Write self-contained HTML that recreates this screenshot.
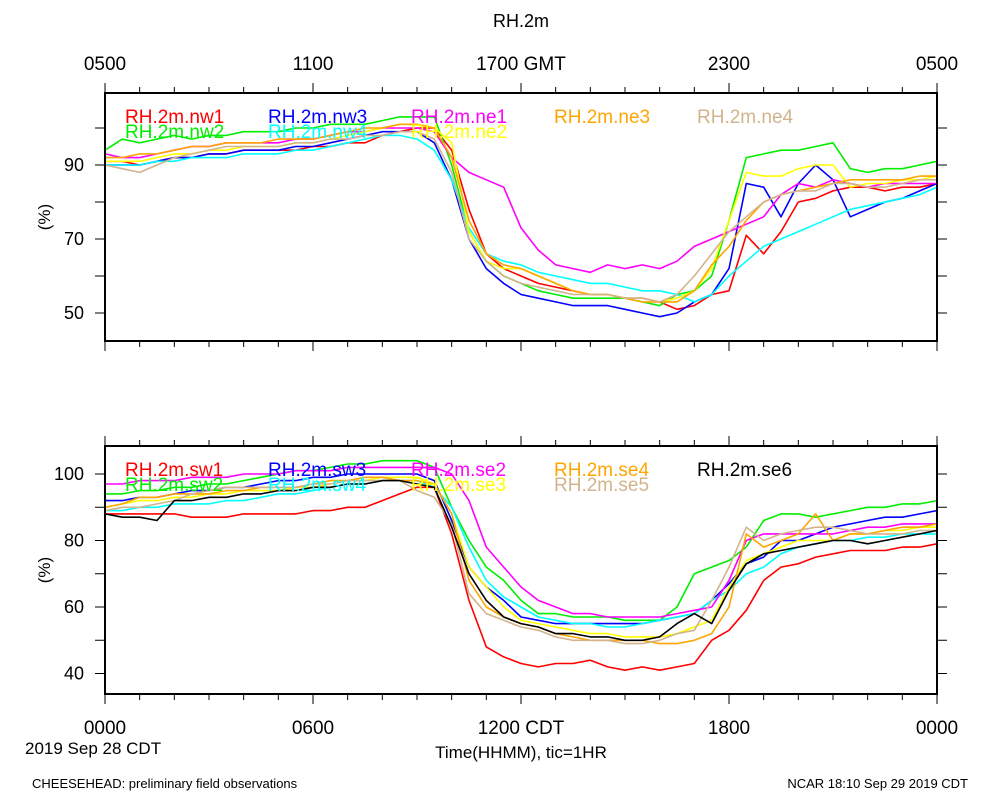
<!DOCTYPE html>
<html><head><meta charset="utf-8"><style>
body{margin:0;background:#fff;width:1000px;height:800px;overflow:hidden;font-family:"Liberation Sans",sans-serif}
svg text{font-family:"Liberation Sans",sans-serif}
</style></head><body>
<svg id="chart" width="1000" height="800">
<text x="521" y="27" font-size="18" text-anchor="middle">RH.2m</text>
<text x="25" y="754" font-size="17">2019 Sep 28 CDT</text>
<text x="521" y="758" font-size="17" text-anchor="middle">Time(HHMM), tic=1HR</text>
<text x="32" y="788" font-size="13">CHEESEHEAD: preliminary field observations</text>
<text x="968" y="788" font-size="13" text-anchor="end">NCAR 18:10 Sep 29 2019 CDT</text>
</svg>
<script>
const times=[];for(let i=0;i<=48;i++)times.push(i*0.5);
const topTickLabels=["0500","1100","1700 GMT","2300","0500"];
const botTickLabels=["0000","0600","1200 CDT","1800","0000"];
const topYLabels=[90,70,50];
const botYLabels=[100,80,60,40];
const topNames=["RH.2m.nw1","RH.2m.nw2","RH.2m.nw3","RH.2m.nw4","RH.2m.ne1","RH.2m.ne2","RH.2m.ne3","RH.2m.ne4"];
const botNames=["RH.2m.sw1","RH.2m.sw2","RH.2m.sw3","RH.2m.sw4","RH.2m.se2","RH.2m.se3","RH.2m.se4","RH.2m.se5","RH.2m.se6"];
const nw1=[91,91,90,91,92,92,93,93,94,94,94,94,95,95,96,96,98,99,100,100,94,78,66,62,60,58,57,56,55,55,54,54,53,51,52,55,56,71,66,72,80,81,83,84,84,83,84,84,85];
const nw2=[94,97,96,97,98,97,98,98,99,99,99,100,100,101,101,101,102,103,103,103,90,72,64,60,58,56,55,54,54,54,54,53,52,55,56,60,75,92,93,94,94,95,96,89,88,89,89,90,91];
const nw3=[90,90,90,91,92,92,93,93,94,94,94,95,95,96,97,98,99,99,99,96,86,70,62,58,55,54,53,52,52,52,51,50,49,50,53,55,62,85,84,76,85,90,86,76,78,80,81,83,85];
const nw4=[90,90,90,91,91,92,92,92,93,93,93,94,94,95,96,97,98,98,97,94,86,73,66,64,63,61,60,59,58,58,57,56,56,55,53,55,60,64,68,70,72,74,76,78,79,80,81,82,84];
const ne1=[93,92,92,93,94,95,95,96,96,96,96,97,97,98,99,99,100,100,100,99,92,88,86,84,73,67,63,62,61,63,62,63,62,64,68,70,72,74,76,82,85,84,86,85,84,85,85,85,85];
const ne2=[91,91,91,92,93,93,94,94,95,95,95,96,96,97,98,99,100,101,101,100,96,72,64,62,62,60,58,56,55,55,54,54,53,54,56,62,75,88,87,87,89,90,90,84,85,85,86,86,87];
const ne3=[92,92,93,93,94,95,95,96,96,96,97,97,97,98,99,100,100,101,101,100,92,75,66,63,62,60,58,56,55,55,54,53,53,53,56,63,68,75,80,82,83,84,85,86,86,86,86,87,87];
const ne4=[90,89,88,90,92,93,94,95,95,95,95,96,96,97,97,98,98,99,99,97,88,70,64,60,58,57,56,55,55,55,54,54,53,55,60,66,72,76,80,82,83,83,85,85,84,84,85,86,86];
const sw1=[88,88,88,88,88,87,87,87,88,88,88,88,89,89,90,90,92,94,96,96,82,62,48,45,43,42,43,43,44,42,41,42,41,42,43,50,53,59,68,72,73,75,76,77,77,77,78,78,79];
const sw2=[94,94,95,95,96,96,97,97,98,99,100,101,101,102,103,103,104,104,104,102,90,80,72,68,62,58,58,57,57,57,56,56,56,60,70,72,74,78,86,88,88,87,88,89,90,90,91,91,92];
const sw3=[92,92,93,93,94,95,95,96,96,97,98,98,99,99,100,100,100,100,100,98,86,72,66,62,57,56,55,55,55,55,55,55,56,57,58,62,67,73,75,80,80,82,84,85,86,87,87,88,89];
const sw4=[89,89,90,90,91,91,91,92,92,93,94,94,95,96,97,97,98,98,98,96,90,78,68,63,60,57,56,55,55,54,54,55,56,57,58,62,65,70,72,76,78,79,80,80,81,81,82,82,82];
const se2=[97,97,98,98,98,99,99,99,100,100,100,101,101,101,102,102,102,102,102,102,100,92,78,72,66,62,60,58,58,57,57,57,57,58,59,60,68,80,82,82,82,82,82,83,84,84,85,85,85];
const se3=[90,91,92,92,93,93,94,94,95,95,95,96,96,97,98,98,99,99,99,97,88,72,66,60,56,55,54,53,52,52,51,51,51,52,54,56,66,74,76,78,80,80,80,82,82,83,83,84,84];
const se4=[90,91,93,93,94,94,94,95,95,96,96,96,97,98,98,99,99,98,98,97,88,68,60,57,55,54,52,51,50,50,50,50,49,49,50,52,60,82,78,80,82,88,80,82,82,83,84,84,85];
const se5=[89,90,90,91,92,94,95,96,96,96,96,96,97,97,98,98,98,98,95,93,85,64,58,56,54,53,51,50,50,50,49,49,50,52,53,62,72,84,80,82,83,84,84,83,82,82,82,83,83];
const se6=[88,87,87,86,92,92,93,93,94,94,95,95,96,96,97,97,98,98,97,96,84,70,62,57,55,54,52,52,51,51,50,50,51,55,58,55,65,73,76,77,78,79,80,80,79,80,81,82,83];
const topSeries=[nw1,nw2,nw3,nw4,ne1,ne2,ne3,ne4];
const botSeries=[sw1,sw2,sw3,sw4,se2,se3,se4,se5,se6];
const topColors=["#ff0000","#00ee00","#0000ff","#00ffff","#ff00ff","#ffff00","#ffa500","#d2b48c"];
const botColors=["#ff0000","#00ee00","#0000ff","#00ffff","#ff00ff","#ffff00","#ffa500","#d2b48c","#000000"];
const topLegendSlots=[[0,0],[0,1],[1,0],[1,1],[2,0],[2,1],[3,0],[4,0]];
const botLegendSlots=[[0,0],[0,1],[1,0],[1,1],[2,0],[2,1],[3,0],[3,1],[4,0]];
const NS="http://www.w3.org/2000/svg";
const svg=document.getElementById('chart');
function mk(tag,attrs,parent){const e=document.createElementNS(NS,tag);for(const k in attrs)e.setAttribute(k,attrs[k]);(parent||svg).appendChild(e);return e;}
const X0=105,X1=937;
function xs(t){return X0+(t/24)*(X1-X0);}
function drawPanel(p){
  const g=mk('g',{});
  
  
  const ys=v=>p.y0-(v-p.v0)*p.k;
  for(let h=0;h<=24;h++){
    const x=xs(h),L=(h%6===0)?10:6;
    mk('line',{x1:x,x2:x,y1:p.top,y2:p.top-L,stroke:'#000','stroke-width':1},g);
    mk('line',{x1:x,x2:x,y1:p.bot,y2:p.bot+L,stroke:'#000','stroke-width':1},g);
  }
  for(let v=p.tmin;v<=p.tmax;v+=10){
    const y=ys(v);
    mk('line',{x1:X0,x2:X0-10,y1:y,y2:y,stroke:'#000'},g);
    mk('line',{x1:X1,x2:X1+10,y1:y,y2:y,stroke:'#000'},g);
  }
  p.ylabels.forEach(v=>{const t=mk('text',{x:84,y:ys(v)+6,'font-size':18,'text-anchor':'end'},g);t.textContent=v;
    
    });
  const yt=mk('text',{x:50,y:(p.top+p.bot)/2,'font-size':17,'text-anchor':'middle',transform:`rotate(-90 50 ${(p.top+p.bot)/2})`},g);
  yt.textContent='(%)';
  
  
  p.xlabels.forEach((s,i)=>{const t=mk('text',{x:xs(i*6),y:p.xly,'font-size':19,'text-anchor':'middle'},g);t.textContent=s;
    
    });
  p.series.forEach((arr,si)=>{
    const d=arr.map((v,i)=>(i?'L':'M')+xs(times[i]).toFixed(1)+' '+ys(v).toFixed(1)).join(' ');
    const pa=mk('path',{d:d,fill:'none',stroke:p.colors[si],'stroke-width':1.6,'stroke-linejoin':'round'},g);
    
    
  });
  mk('rect',{x:X0,y:p.top,width:X1-X0,height:p.bot-p.top,fill:'none',stroke:'#000','stroke-width':2},g);
  p.names.forEach((n,i)=>{
    const s=p.slots[i];
    const t=mk('text',{x:125+s[0]*143,y:p.top+30+s[1]*15,'font-size':19,fill:p.colors[i]},g);
    t.textContent=n;
    
    
  });
}
drawPanel({name:'top-panel',top:93,bot:341,v0:90,y0:165,k:3.7,tmin:50,tmax:100,ylabels:topYLabels,xlabels:topTickLabels,xly:70,series:topSeries,colors:topColors,names:topNames,slots:topLegendSlots});
drawPanel({name:'bottom-panel',top:446,bot:694,v0:100,y0:474,k:3.325,tmin:40,tmax:100,ylabels:botYLabels,xlabels:botTickLabels,xly:734,series:botSeries,colors:botColors,names:botNames,slots:botLegendSlots});
</script>
</body></html>
